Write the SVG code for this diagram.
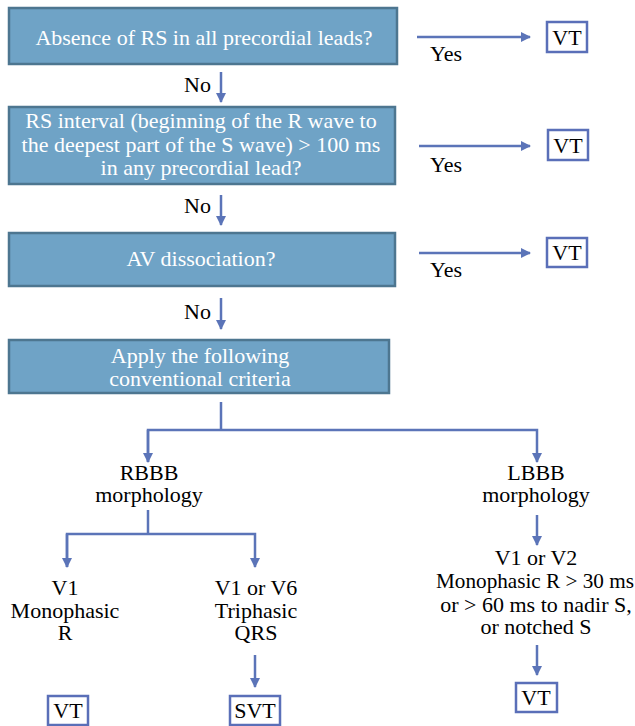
<svg xmlns="http://www.w3.org/2000/svg" width="635" height="726" viewBox="0 0 635 726">
<defs>
<marker id="ah" viewBox="0 0 10 10" refX="9" refY="5" markerWidth="4" markerHeight="4" orient="auto" markerUnits="strokeWidth">
<path d="M0,0 L10,5 L0,10 z" fill="#5b74b8"/>
</marker>
</defs>

<g font-family="Liberation Serif" font-size="22" text-anchor="middle" fill="#ffffff">
<g id="q1">
<rect fill="#6fa3c6" stroke="#4d7690" stroke-width="2.5" x="9" y="8" width="388" height="56"/>
<text x="204" y="45">Absence of RS in all precordial leads?</text>
</g>
<g id="q2">
<rect fill="#6fa3c6" stroke="#4d7690" stroke-width="2.5" x="9" y="107" width="386" height="77"/>
<text x="201" y="128">RS interval (beginning of the R wave to</text>
<text x="201" y="152">the deepest part of the S wave) &gt; 100 ms</text>
<text x="201" y="175">in any precordial lead?</text>
</g>
<g id="q3">
<rect fill="#6fa3c6" stroke="#4d7690" stroke-width="2.5" x="9" y="233" width="386" height="53"/>
<text x="201" y="266">AV dissociation?</text>
</g>
<g id="q4">
<rect fill="#6fa3c6" stroke="#4d7690" stroke-width="2.5" x="9" y="340" width="380" height="53"/>
<text x="200" y="363">Apply the following</text>
<text x="200" y="386">conventional criteria</text>
</g>
</g>

<g font-family="Liberation Serif" font-size="22" text-anchor="middle" fill="#000000">
<g id="vt1">
<rect fill="#ffffff" stroke="#5a6fb8" stroke-width="2.5" x="547" y="22" width="40" height="30"/>
<text x="567" y="45">VT</text>
</g>
<g id="vt2">
<rect fill="#ffffff" stroke="#5a6fb8" stroke-width="2.5" x="548" y="130" width="40" height="30"/>
<text x="568" y="153">VT</text>
</g>
<g id="vt3">
<rect fill="#ffffff" stroke="#5a6fb8" stroke-width="2.5" x="547" y="238" width="40" height="29"/>
<text x="567" y="260">VT</text>
</g>
<g id="rbbb">
<text x="149" y="480">RBBB</text>
<text x="149" y="502">morphology</text>
</g>
<g id="lbbb">
<text x="536" y="480">LBBB</text>
<text x="536" y="502">morphology</text>
</g>
<g id="v1mono">
<text x="65" y="595">V1</text>
<text x="65" y="618">Monophasic</text>
<text x="65" y="640">R</text>
</g>
<g id="v1v6">
<text x="256" y="595">V1 or V6</text>
<text x="256" y="618">Triphasic</text>
<text x="256" y="640">QRS</text>
</g>
<g id="v1v2">
<text x="536" y="565">V1 or V2</text>
<text x="535" y="588" textLength="198" lengthAdjust="spacingAndGlyphs">Monophasic R &gt; 30 ms</text>
<text x="536" y="612">or &gt; 60 ms to nadir S,</text>
<text x="536" y="634">or notched S</text>
</g>
<g id="vt4">
<rect fill="#ffffff" stroke="#5a6fb8" stroke-width="2.5" x="48" y="696" width="40" height="29"/>
<text x="68" y="718">VT</text>
</g>
<g id="svt">
<rect fill="#ffffff" stroke="#5a6fb8" stroke-width="2.5" x="230" y="696" width="50" height="29"/>
<text x="255" y="718">SVT</text>
</g>
<g id="vt5">
<rect fill="#ffffff" stroke="#5a6fb8" stroke-width="2.5" x="516" y="683" width="41" height="29"/>
<text x="536" y="705">VT</text>
</g>
</g>

<g id="connectors" fill="none" stroke="#5b74b8" stroke-width="2.5">
<line x1="417" y1="37" x2="530" y2="37" marker-end="url(#ah)"/>
<line x1="419" y1="146" x2="530" y2="146" marker-end="url(#ah)"/>
<line x1="419" y1="253" x2="530" y2="253" marker-end="url(#ah)"/>
<line x1="221" y1="72" x2="221" y2="102" marker-end="url(#ah)"/>
<line x1="221" y1="195" x2="221" y2="225" marker-end="url(#ah)"/>
<line x1="221" y1="298" x2="221" y2="329" marker-end="url(#ah)"/>
<polyline points="221,402 221,430"/>
<polyline points="148,462 148,430 537,430 537,462" marker-end="url(#ah)"/>
<line x1="148" y1="430" x2="148" y2="462" marker-end="url(#ah)"/>
<polyline points="148,510 148,534"/>
<polyline points="67,567 67,534 255,534 255,567" marker-end="url(#ah)"/>
<line x1="67" y1="534" x2="67" y2="567" marker-end="url(#ah)"/>
<line x1="255" y1="655" x2="255" y2="687" marker-end="url(#ah)"/>
<line x1="537" y1="515" x2="537" y2="545" marker-end="url(#ah)"/>
<line x1="537" y1="645" x2="537" y2="675" marker-end="url(#ah)"/>
</g>
<g id="labels" font-family="Liberation Serif" font-size="22" fill="#000000">
<text x="430" y="61">Yes</text>
<text x="430" y="172">Yes</text>
<text x="430" y="277">Yes</text>
<text x="184" y="92">No</text>
<text x="184" y="213">No</text>
<text x="184" y="319">No</text>
</g>
</svg>
